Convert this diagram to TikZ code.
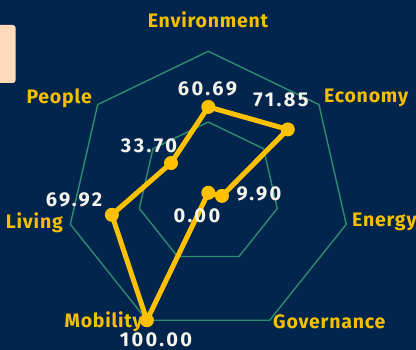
\documentclass[tikz,border=0pt]{standalone}
\usepackage{fontspec}
\setmainfont{Fira Sans}
\usetikzlibrary{calc}
\definecolor{bgnavy}{RGB}{2,37,77}
\definecolor{gridgreen}{RGB}{46,140,112}
\definecolor{gold}{RGB}{255,193,0}
\definecolor{labgold}{RGB}{245,190,0}
\definecolor{valwhite}{RGB}{245,245,235}
\definecolor{peach}{RGB}{255,218,185}
\tikzset{
  gridline/.style={draw=gridgreen, line width=1.4pt, line join=miter},
  dataline/.style={draw=gold, line width=5pt, line join=round},
  dot/.style={circle, fill=gold, inner sep=0pt, minimum size=14pt},
  axislabel/.style={text=labgold, font=\fontsize{19.5}{22}\selectfont\bfseries\addfontfeatures{LetterSpace=4}, inner sep=0pt},
  vallabel/.style={text=valwhite, font=\fontsize{20}{22}\selectfont\bfseries\addfontfeatures{LetterSpace=12}, inner sep=0pt},
}
\begin{document}
\begin{tikzpicture}[x=1pt,y=-1pt]
\useasboundingbox (0,0) rectangle (416,350);
\fill[bgnavy] (0,0) rectangle (416,350);
% partial legend box
\fill[peach, rounded corners=3pt] (-8,25) rectangle (15.7,83);
\coordinate (O) at (208.3,192.8);
% grid
\draw[gridline] ($(O)+(90:141.5pt)$) -- ($(O)+(38.571:141.5pt)$) -- ($(O)+(-12.857:141.5pt)$) -- ($(O)+(-64.286:141.5pt)$) -- ($(O)+(-115.714:141.5pt)$) -- ($(O)+(-167.143:141.5pt)$) -- ($(O)+(141.429:141.5pt)$) -- cycle;
\draw[gridline] ($(O)+(90:70.75pt)$) -- ($(O)+(38.571:70.75pt)$) -- ($(O)+(-12.857:70.75pt)$) -- ($(O)+(-64.286:70.75pt)$) -- ($(O)+(-115.714:70.75pt)$) -- ($(O)+(-167.143:70.75pt)$) -- ($(O)+(141.429:70.75pt)$) -- cycle;
% data points
\coordinate (env) at ($(O)+(90:85.88pt)$);
\coordinate (eco) at ($(O)+(38.571:101.67pt)$);
\coordinate (ene) at ($(O)+(-12.857:14.01pt)$);
\coordinate (gov) at (O);
\coordinate (mob) at ($(O)+(-115.714:141.5pt)$);
\coordinate (liv) at ($(O)+(-167.143:98.94pt)$);
\coordinate (peo) at ($(O)+(141.429:47.69pt)$);
\draw[dataline] (env) -- (eco) -- (ene) -- (gov) -- (mob) -- (liv) -- (peo) -- cycle;
\foreach \p in {env,eco,ene,gov,mob,liv,peo} \node[dot] (d\p) at (\p) {};
% axis labels
\node[axislabel] (lenv) at (208,20) {Environment};
\node[axislabel, anchor=west] (leco) at (324,98) {Economy};
\node[axislabel, anchor=west] (lene) at (352,222) {Energy};
\node[axislabel, anchor=west] (lgov) at (273,322) {Governance};
\node[axislabel, anchor=east] (lmob) at (143,322) {Mobility};
\node[axislabel, anchor=east] (lliv) at (63,223) {Living};
\node[axislabel, anchor=east] (lpeo) at (92,98) {People};
% value labels
\node[vallabel] (venv) at (207.5,89) {60.69};
\node[vallabel] (veco) at (281,99.5) {71.85};
\node[vallabel] (vene) at (259,194) {9.90};
\node[vallabel] (vgov) at (197,216) {0.00};
\node[vallabel] (vmob) at (156,340) {100.00};
\node[vallabel] (vliv) at (74,200) {69.92};
\node[vallabel] (vpeo) at (149,146) {33.70};
\end{tikzpicture}
\end{document}
